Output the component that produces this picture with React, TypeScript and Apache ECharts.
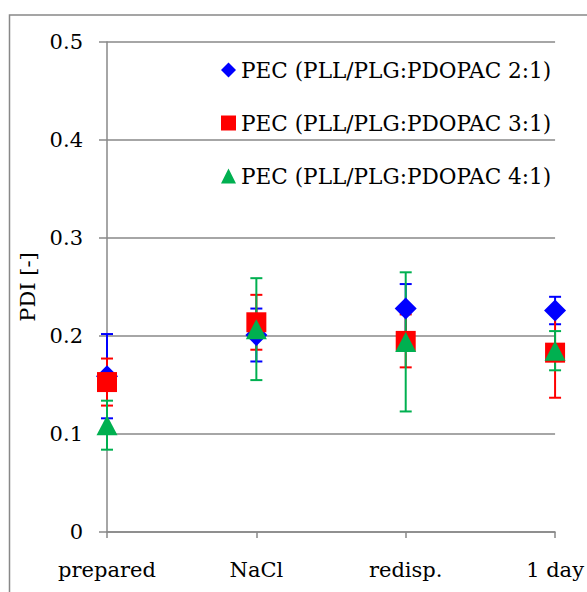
import React, { useEffect, useRef } from "react";
import * as echarts from "echarts";

const categories = ["prepared", "NaCl", "redisp.", "1 day"];
const seriesNames = [
  "PEC (PLL/PLG:PDOPAC 2:1)",
  "PEC (PLL/PLG:PDOPAC 3:1)",
  "PEC (PLL/PLG:PDOPAC 4:1)",
];
const pdi21 = [0.159, 0.201, 0.228, 0.226];
const err21 = [0.043, 0.027, 0.025, 0.014];
const pdi31 = [0.153, 0.214, 0.195, 0.183];
const err31 = [0.024, 0.028, 0.027, 0.046];
const pdi41 = [0.109, 0.207, 0.194, 0.185];
const err41 = [0.025, 0.052, 0.071, 0.02];
const yTicks = [0, 0.1, 0.2, 0.3, 0.4, 0.5];

const colors = ["#0000FF", "#FF0000", "#00B050"];
const symbols = ["diamond", "rect", "triangle"];
const symbolSizes: any[] = [[22, 22], [20, 20], [21, 20]];
const FONT = "'DejaVu Serif', serif";
const FS = 21;

export default function App() {
  const ref = useRef<HTMLDivElement>(null);
  useEffect(() => {
    document.body.style.margin = "0";
    const chart = echarts.init(ref.current!, null, { renderer: "svg" });
    const values = [pdi21, pdi31, pdi41];
    const errs = [err21, err31, err41];

    const errorSeries = values.map((vals, s) => ({
      type: "custom",
      z: 2,
      silent: true,
      data: vals.map((v, i) => [i, v, v - errs[s][i], v + errs[s][i]]),
      encode: { x: 0, y: 1 },
      renderItem: (params: any, api: any) => {
        const x = api.value(0);
        const lo = api.coord([x, api.value(2)]);
        const hi = api.coord([x, api.value(3)]);
        const cap = 6;
        const style = { stroke: colors[s], lineWidth: 2 };
        return {
          type: "group",
          children: [
            { type: "line", shape: { x1: lo[0], y1: lo[1], x2: hi[0], y2: hi[1] }, style },
            { type: "line", shape: { x1: lo[0] - cap, y1: lo[1], x2: lo[0] + cap, y2: lo[1] }, style },
            { type: "line", shape: { x1: hi[0] - cap, y1: hi[1], x2: hi[0] + cap, y2: hi[1] }, style },
          ],
        };
      },
    }));

    const markerSeries = values.map((vals, s) => ({
      type: "scatter",
      name: seriesNames[s],
      z: 3,
      symbol: symbols[s],
      symbolSize: symbolSizes[s],
      itemStyle: { color: colors[s], opacity: 1 },
      data: vals.map((v, i) => [i, v]),
    }));

    chart.setOption({
      animation: false,
      textStyle: { fontFamily: FONT },
      grid: { left: 107, right: 30, top: 42, bottom: 60, containLabel: false },
      legend: {
        data: seriesNames.map((n, s) => ({ name: n, icon: symbols[s] })),
        orient: "vertical",
        left: 216,
        top: 53,
        itemWidth: 15,
        itemHeight: 15,
        itemGap: 29,
        selectedMode: false,
        textStyle: { fontFamily: FONT, fontSize: 21.6, color: "#000", lineHeight: 24 },
      },
      xAxis: {
        type: "category",
        data: categories,
        boundaryGap: false,
        axisLine: { lineStyle: { color: "#888", width: 1.5 } },
        axisTick: { show: true, length: 6, lineStyle: { color: "#888", width: 1.5 } },
        axisLabel: { fontFamily: FONT, fontSize: FS, color: "#000", margin: 27 },
        splitLine: { show: false },
      },
      yAxis: {
        type: "value",
        min: yTicks[0],
        max: yTicks[yTicks.length - 1],
        interval: 0.1,
        name: "PDI [-]",
        nameLocation: "middle",
        nameGap: 61,
        nameTextStyle: { fontFamily: FONT, fontSize: FS, color: "#000" },
        axisLine: { show: true, lineStyle: { color: "#888", width: 1.5 } },
        axisTick: { show: true, length: 8, lineStyle: { color: "#888", width: 1.5 } },
        axisLabel: {
          fontFamily: FONT,
          fontSize: FS,
          color: "#000",
          margin: 24,
          formatter: (v: number) => (v === 0 ? "0" : v.toFixed(1)),
        },
        splitLine: { show: true, lineStyle: { color: "#888", width: 1.5 } },
      },
      graphic: [
        {
          type: "rect",
          z: -10,
          silent: true,
          shape: { x: 9.5, y: 15, width: 700, height: 700 },
          style: { fill: "none", stroke: "#888", lineWidth: 1.5 },
        },
      ],
      series: [...errorSeries, ...markerSeries],
    });
    return () => chart.dispose();
  }, []);
  return <div ref={ref} style={{ width: 587, height: 592 }} />;
}
